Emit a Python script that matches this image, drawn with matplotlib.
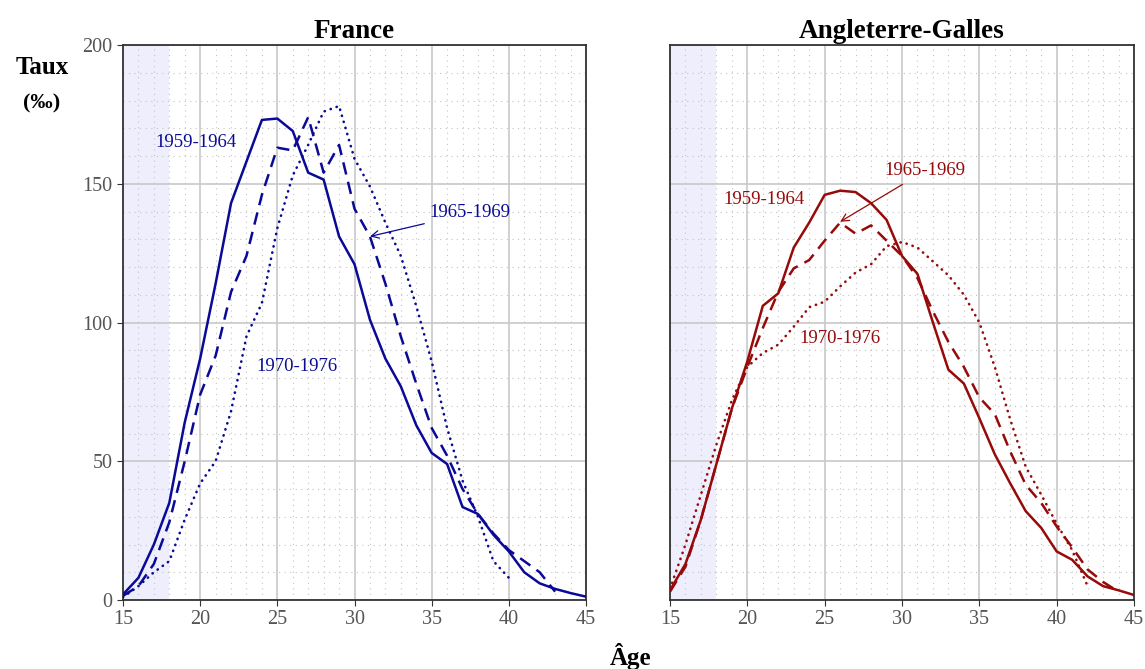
import numpy as np
import matplotlib
matplotlib.use("Agg")
import matplotlib.pyplot as plt
from matplotlib.ticker import MultipleLocator

plt.rcParams['font.family'] = ['Liberation Serif', 'DejaVu Serif']

# ---------------- data ----------------
fr_1959_ages = list(range(15, 46))
fr_1959 = [2, 8, 20, 35, 64, 87, 114, 143, 158, 173, 173.5, 169, 154, 151.5, 131, 121,
           101, 87, 77, 63, 53, 49, 33.5, 31, 23.5, 17.5, 10, 6, 4, 2.5, 1.2]
fr_1965_ages = list(range(15, 44))
fr_1965 = [1.5, 5, 13, 28, 50, 74, 88, 111, 124, 146, 163, 162, 174, 154, 164, 141,
           131, 114, 95, 78, 62, 52, 40, 31, 24, 18, 14, 10, 3]
fr_1970_ages = list(range(15, 41))
fr_1970 = [1, 5, 10, 14, 29, 42, 50, 68, 95, 107, 134, 153, 164, 176, 178, 159,
           149, 136, 124, 106, 86, 62, 43, 30, 14, 8]

en_1959_ages = list(range(15, 46))
en_1959 = [3.5, 13, 29, 49, 69, 86, 106, 110.5, 127, 136, 146, 147.5, 147, 143, 137,
           124, 117.5, 100, 83, 78, 65.5, 52.5, 42, 32, 26, 17.5, 14.5, 8.5, 5, 3.5, 1.8]
en_1965_ages = list(range(15, 45))
en_1965 = [3, 12, 29, 49, 69, 84, 98, 111, 119.5, 122.5, 129.5, 136, 132, 135, 129.5,
           124, 116, 104, 93, 84, 73, 67, 53.5, 41.5, 35, 26.5, 19, 11, 6.5, 3]
en_1970_ages = list(range(15, 43))
en_1970 = [4, 20, 38, 56, 72, 84, 89, 92, 98.5, 105.5, 107.5, 113, 118, 121, 127.5,
           129, 127, 122, 117, 110, 100, 84, 65, 48, 38, 27.5, 18, 5]

panel_titles = ["France", "Angleterre-Galles"]
period_labels = ["1959-1964", "1965-1969", "1970-1976"]
x_ticks = [15, 20, 25, 30, 35, 40, 45]
y_ticks = [0, 50, 100, 150, 200]

BLUE = "#0a0a96"
RED = "#960a0a"

fig = plt.figure(figsize=(11.45, 6.69), dpi=100)
ax1 = fig.add_axes([123 / 1145, 69 / 669, 463 / 1145, 555 / 669])
ax2 = fig.add_axes([670 / 1145, 69 / 669, 464 / 1145, 555 / 669])

def setup(ax, title, show_y):
    ax.set_xlim(15, 45)
    ax.set_ylim(0, 200)
    ax.axvspan(15, 18, color='#eeeefc', zorder=0, lw=0)
    ax.xaxis.set_major_locator(MultipleLocator(5))
    ax.xaxis.set_minor_locator(MultipleLocator(1))
    ax.yaxis.set_major_locator(MultipleLocator(50))
    ax.yaxis.set_minor_locator(MultipleLocator(10))
    ax.grid(True, which='major', color='#c8c8c8', lw=1.2, zorder=1)
    ax.grid(True, which='minor', color='#c4c4c4', lw=0.8, linestyle=(0, (1, 4)), zorder=1)
    ax.set_axisbelow(True)
    for s in ax.spines.values():
        s.set_color('#333333')
        s.set_linewidth(1.3)
    ax.tick_params(which='minor', length=0)
    ax.tick_params(which='major', labelsize=14.5, labelcolor='#555555', color='#333333', length=4)
    ax.set_xticks(x_ticks)
    ax.set_yticks(y_ticks)
    if not show_y:
        ax.tick_params(axis='y', labelleft=False, length=0)
    ax.set_title(title, fontsize=19.5, fontweight='bold', pad=5)

setup(ax1, panel_titles[0], True)
setup(ax2, panel_titles[1], False)

lw = 1.8
dot = dict(linestyle=(0, (0.1, 2.3)), dash_capstyle='round')
dash = dict(linestyle=(0, (5, 3)))

ax1.plot(fr_1959_ages, fr_1959, color=BLUE, lw=lw, zorder=3)
ax1.plot(fr_1965_ages, fr_1965, color=BLUE, lw=lw, zorder=3, **dash)
ax1.plot(fr_1970_ages, fr_1970, color=BLUE, lw=1.9, zorder=3, **dot)

ax2.plot(en_1959_ages, en_1959, color=RED, lw=lw, zorder=3)
ax2.plot(en_1965_ages, en_1965, color=RED, lw=lw, zorder=3, **dash)
ax2.plot(en_1970_ages, en_1970, color=RED, lw=1.9, zorder=3, **dot)

fs = 13.5
ax1.text(19.73, 164.7, period_labels[0], color=BLUE, fontsize=fs, ha='center', va='center')
ax1.text(26.28, 84.3, period_labels[2], color=BLUE, fontsize=fs, ha='center', va='center')
ax1.annotate(period_labels[1], xy=(31.0, 131), xytext=(37.5, 139.5), color=BLUE,
             fontsize=fs, ha='center', va='center',
             arrowprops=dict(arrowstyle='->', color=BLUE, lw=0.9, shrinkA=2, shrinkB=0))

ax2.text(21.08, 144.5, period_labels[0], color=RED, fontsize=fs, ha='center', va='center')
ax2.text(25.99, 94.4, period_labels[2], color=RED, fontsize=fs, ha='center', va='center')
ax2.annotate(period_labels[1], xy=(26.0, 136.3), xytext=(31.48, 154.6), color=RED,
             fontsize=fs, ha='center', va='center',
             arrowprops=dict(arrowstyle='->', color=RED, lw=0.9, shrinkA=3, shrinkB=0))

fig.text(42 / 1145, 1 - 68 / 669, "Taux", fontsize=18, fontweight='bold', ha='center', va='center')
fig.text(42 / 1145, 1 - 103 / 669, "(‰)", fontsize=16, fontweight='bold', ha='center', va='center')
fig.text(631 / 1145, 1 - 656 / 669, "Âge", fontsize=18, fontweight='bold', ha='center', va='center')

fig.savefig("out.png", dpi=100)
